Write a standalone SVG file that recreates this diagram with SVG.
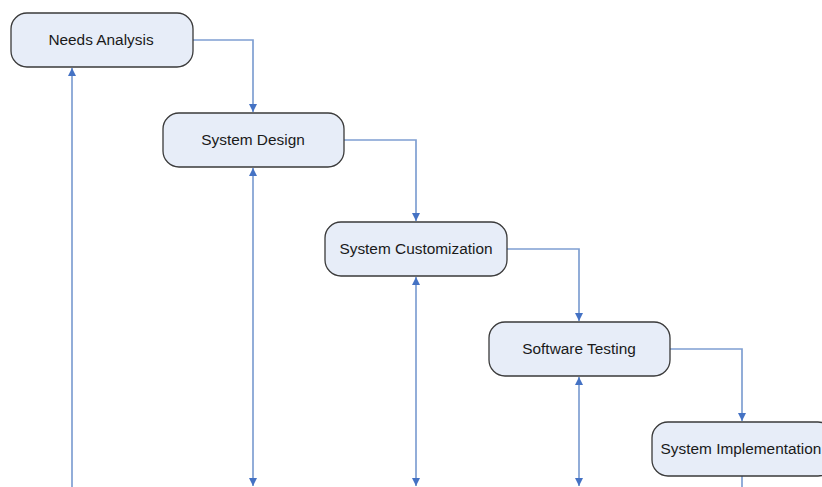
<svg xmlns="http://www.w3.org/2000/svg" width="822" height="487" viewBox="0 0 822 487">
<style>
.n{fill:#e7edf8;stroke:#3a3a3a;stroke-width:1.3}
.t{font-family:"Liberation Sans",Arial,sans-serif;font-size:15.4px;fill:#1a1a1a;text-anchor:middle;dominant-baseline:central}
.c{fill:none;stroke:#7f9fd2;stroke-width:1.7}
</style>
<defs>
<marker id="a" viewBox="0 0 10 10" refX="10" refY="5" markerWidth="9" markerHeight="8" markerUnits="userSpaceOnUse" orient="auto-start-reverse"><path d="M0,0L10,5L0,10Z" fill="#4472c4"/></marker>
</defs>
<rect width="822" height="487" fill="#fff"/>
<g id="connectors">
<path class="c" d="M193,40H253V112" marker-end="url(#a)"/>
<path class="c" d="M344,140H416V221" marker-end="url(#a)"/>
<path class="c" d="M507,249H579V321" marker-end="url(#a)"/>
<path class="c" d="M670,349H742V421" marker-end="url(#a)"/>
<path class="c" d="M742,476V487"/>
<path class="c" d="M72,487V68" marker-end="url(#a)"/>
<path class="c" d="M253,168V486" marker-start="url(#a)" marker-end="url(#a)"/>
<path class="c" d="M416,277V486" marker-start="url(#a)" marker-end="url(#a)"/>
<path class="c" d="M579,377V486" marker-start="url(#a)" marker-end="url(#a)"/>
</g>
<g id="needs-analysis"><rect class="n" x="11" y="13" width="182" height="54" rx="16"/><text class="t" x="101" y="39">Needs Analysis</text></g>
<g id="system-design"><rect class="n" x="163" y="113" width="181" height="54" rx="16"/><text class="t" x="253" y="139">System Design</text></g>
<g id="system-customization"><rect class="n" x="325" y="222" width="182" height="54" rx="16"/><text class="t" x="416" y="248">System Customization</text></g>
<g id="software-testing"><rect class="n" x="489" y="322" width="181" height="54" rx="16"/><text class="t" x="579" y="348">Software Testing</text></g>
<g id="system-implementation"><rect class="n" x="652" y="422" width="182" height="54" rx="16"/><text class="t" x="741" y="448">System Implementation</text></g>
</svg>
